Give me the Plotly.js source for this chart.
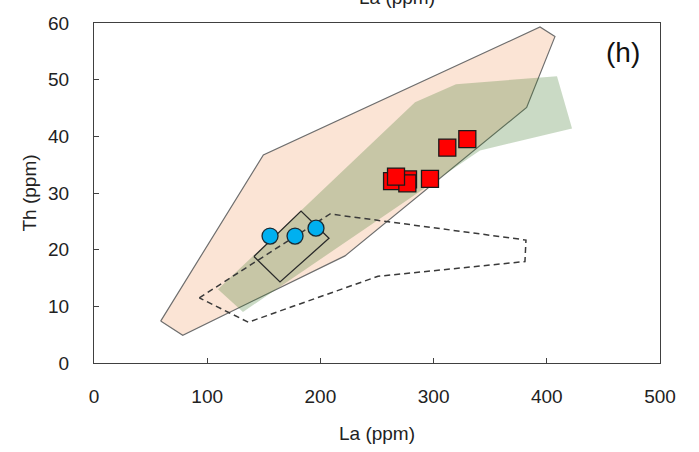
<!DOCTYPE html>
<html>
<head>
<meta charset="utf-8">
<script src="https://cdn.plot.ly/plotly-3.0.1.min.js"></script>
<style>html,body{margin:0;padding:0;background:#fff;}#chart{width:699px;height:452px;}</style>
</head>
<body>
<div id="chart"></div>
<script>
// Field polygons (La, Th)
const pinkLa = [58.9, 149.6, 394.0, 407.2, 382.2, 221.7, 78.4, 58.9];
const pinkTh = [7.4, 36.7, 59.3, 57.6, 45.1, 18.9, 4.9, 7.4];

const greenLa = [109.5, 283.6, 319.8, 409.0, 422.3, 341.0, 131.6, 109.5];
const greenTh = [13.0, 46.0, 49.2, 50.6, 41.4, 37.5, 9.0, 13.0];

const dashLa = [93.0, 208.5, 381.6, 380.7, 250.9, 136.3, 93.0];
const dashTh = [11.5, 26.3, 21.7, 17.9, 15.3, 7.2, 11.5];

const boxLa = [141.3, 182.9, 207.6, 164.3, 141.3];
const boxTh = [18.8, 26.8, 22.0, 14.3, 18.8];

// Samples
const circleLa = [155.5, 177.6, 196.1];
const circleTh = [22.4, 22.4, 23.8];

const squareLa = [263.3, 277.4, 276.8, 266.8, 296.8, 312.1, 329.8];
const squareTh = [32.1, 32.4, 31.7, 32.9, 32.5, 38.0, 39.5];

const xTicks = [0, 100, 200, 300, 400, 500];
const yTicks = [0, 10, 20, 30, 40, 50, 60];

const traces = [
  {x: pinkLa, y: pinkTh, type: 'scatter', mode: 'lines', fill: 'toself',
   fillcolor: 'rgb(251,228,213)', line: {color: '#6e6e6e', width: 1.2}, hoverinfo: 'skip'},
  {x: greenLa, y: greenTh, type: 'scatter', mode: 'lines', fill: 'toself',
   fillcolor: 'rgba(60,120,40,0.27)', line: {width: 0, color: 'rgba(0,0,0,0)'}, hoverinfo: 'skip'},
  {x: dashLa, y: dashTh, type: 'scatter', mode: 'lines',
   line: {color: '#3a3a3a', width: 1.5, dash: '6px,4px'}, hoverinfo: 'skip'},
  {x: boxLa, y: boxTh, type: 'scatter', mode: 'lines',
   line: {color: '#2a2a2a', width: 1.3}, hoverinfo: 'skip'},
  {x: circleLa, y: circleTh, type: 'scatter', mode: 'markers',
   marker: {symbol: 'circle', size: 16, color: '#00B0F0', line: {color: '#1a2a33', width: 1.3}}},
  {x: squareLa, y: squareTh, type: 'scatter', mode: 'markers',
   marker: {symbol: 'square', size: 17, color: '#FF0000', line: {color: '#1a1a1a', width: 1.3}}}
];

const axisFont = {family: 'Liberation Sans, Arial, sans-serif', size: 19, color: '#222'};

const layout = {
  width: 699, height: 452,
  margin: {l: 94, r: 39, t: 23, b: 89, pad: 0},
  paper_bgcolor: '#fff', plot_bgcolor: '#fff',
  showlegend: false,
  font: axisFont,
  xaxis: {
    range: [0, 500], tickvals: xTicks, ticktext: xTicks.map(String),
    showgrid: false, zeroline: false,
    showline: true, mirror: true, linecolor: '#404040', linewidth: 1,
    ticks: 'inside', ticklen: 5, tickcolor: '#404040',
    tickfont: axisFont, ticklabelstandoff: 16,
    title: {text: 'La (ppm)', font: axisFont, standoff: 20}
  },
  yaxis: {
    range: [0, 60], tickvals: yTicks, ticktext: yTicks.map(String),
    showgrid: false, zeroline: false,
    showline: true, mirror: true, linecolor: '#404040', linewidth: 1,
    ticks: 'inside', ticklen: 5, tickcolor: '#404040',
    tickfont: axisFont, ticklabelstandoff: 20,
    title: {text: 'Th (ppm)', font: axisFont, standoff: 6}
  },
  annotations: [
    {xref: 'paper', yref: 'paper', x: 0.968, y: 0.965, xanchor: 'right', yanchor: 'top',
     text: '(h)', showarrow: false, font: {family: 'Liberation Sans, Arial, sans-serif', size: 28, color: '#111'}},
    {xref: 'paper', yref: 'paper', x: 0.535, y: 1, xanchor: 'center', yanchor: 'bottom', yshift: 13,
     text: 'La (ppm)', showarrow: false, font: axisFont}
  ]
};

Plotly.newPlot('chart', traces, layout, {displayModeBar: false, staticPlot: true});
</script>
</body>
</html>
